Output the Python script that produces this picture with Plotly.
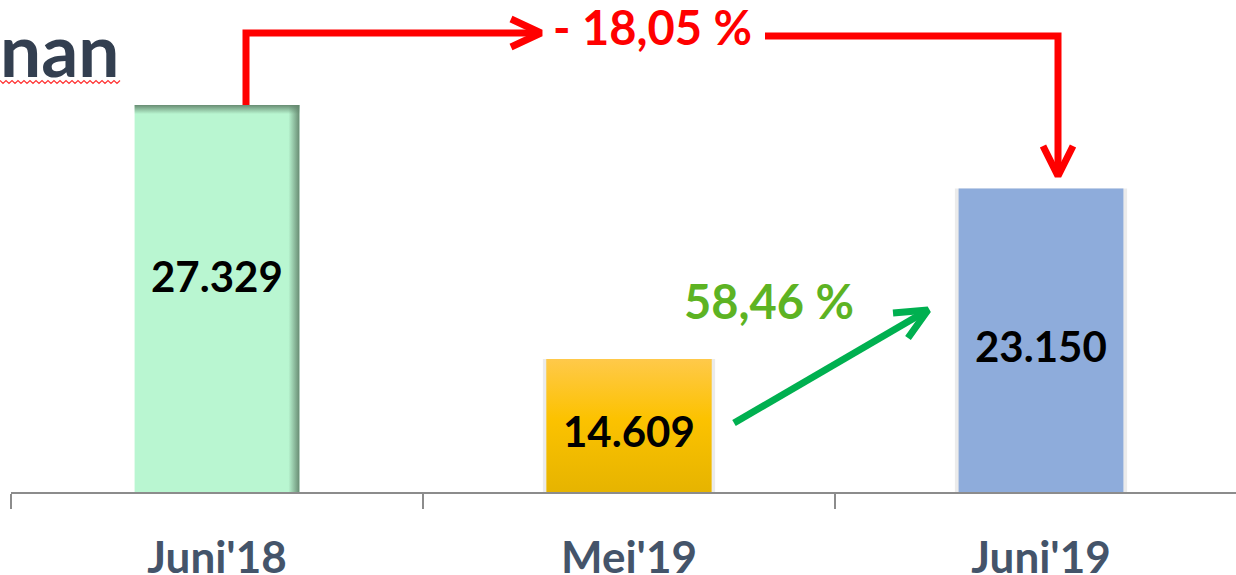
import plotly.graph_objects as go

# chart data
categories = ["Juni'18", "Mei'19", "Juni'19"]
values = [27329, 14609, 23150]
value_labels = ["27.329", "14.609", "23.150"]
bar_colors = ["#B9F6D1", "#FAC000", "#8EACDB"]
change_labels = ["- 18,05 %", "58,46 %"]
title_fragment = "nan"

# the value axis does not start at zero in the original slide
Y_FLOOR = 7950
Y_TOP = 32590
FONT = "Lato"

# plot area in page pixels (used only to place the hand-drawn arrows)
PLOT_L, PLOT_R, PLOT_B = 11, 1236, 492
CAT_PX = 412
X0_PX = PLOT_L + CAT_PX / 2
PX_PER_UNIT = PLOT_B / (Y_TOP - Y_FLOOR)

# labels in the slide are not exactly centred in their bars
label_nudge_px = [-23, 5, 6]


def to_data(px, py):
    return (px - X0_PX) / CAT_PX, Y_FLOOR + (PLOT_B - py) / PX_PER_UNIT


def to_paper(px, py):
    return (px - PLOT_L) / (PLOT_R - PLOT_L), (PLOT_B - py) / PLOT_B


def polyline(points):
    xs, ys = [], []
    for seg in points:
        for p in seg:
            x, y = to_data(*p)
            xs.append(x)
            ys.append(y)
        xs.append(None)
        ys.append(None)
    return xs, ys


xs = list(range(len(categories)))
half = 0.2

fig = go.Figure()

# soft outer shadow behind the second and third bar
fig.add_trace(go.Bar(
    x=xs[1:], y=[v - Y_FLOOR for v in values[1:]], base=Y_FLOOR, width=0.418,
    marker=dict(color="rgba(0,0,0,0.08)", line=dict(width=0)),
    hoverinfo="skip", showlegend=False,
))

fig.add_trace(go.Bar(
    x=xs, y=[v - Y_FLOOR for v in values], base=Y_FLOOR, width=2 * half,
    marker=dict(color=bar_colors, line=dict(width=0)),
    hovertemplate="%{x}: %{customdata}<extra></extra>", customdata=value_labels,
    showlegend=False,
))

# inner shading of the first bar (right edge and top edge)
v = values[0]
strip_w = 11 / CAT_PX
strip_h = 9 / PX_PER_UNIT
fig.add_trace(go.Scatter(
    x=[half - strip_w, half, half, half - strip_w, half - strip_w],
    y=[Y_FLOOR, Y_FLOOR, v, v, Y_FLOOR],
    fill="toself", mode="lines", line=dict(width=0),
    fillgradient=dict(type="horizontal", colorscale=[[0, "rgba(100,135,110,0)"], [1, "rgba(100,135,110,0.95)"]]),
    hoverinfo="skip", showlegend=False,
))
fig.add_trace(go.Scatter(
    x=[-half, half, half, -half, -half],
    y=[v - strip_h, v - strip_h, v, v, v - strip_h],
    fill="toself", mode="lines", line=dict(width=0),
    fillgradient=dict(type="vertical", colorscale=[[0, "rgba(100,135,110,0)"], [1, "rgba(100,135,110,0.95)"]]),
    hoverinfo="skip", showlegend=False,
))

# vertical gradient on the second bar
v = values[1]
fig.add_trace(go.Scatter(
    x=[1 - half, 1 + half, 1 + half, 1 - half, 1 - half],
    y=[Y_FLOOR, Y_FLOOR, v, v, Y_FLOOR],
    fill="toself", mode="lines", line=dict(width=0),
    fillgradient=dict(type="vertical", colorscale=[[0, "#E6B400"], [0.55, "#FCC200"], [1, "#FFC94A"]]),
    hoverinfo="skip", showlegend=False,
))

# value labels inside each bar
for x, v, lab, nudge in zip(xs, values, value_labels, label_nudge_px):
    fig.add_annotation(x=x, y=(Y_FLOOR + v) / 2, yshift=-nudge, text=lab, showarrow=False,
                       font=dict(family=FONT, size=42, color="black", weight="bold"))

# red connector Juni'18 -> Juni'19
rx, ry = polyline([
    [(246, 105), (246, 33), (541, 33)],
    [(511, 19), (541, 33), (511, 47)],
    [(765, 36), (1058, 36), (1058, 176)],
    [(1043, 146), (1058, 176), (1073, 146)],
])
fig.add_trace(go.Scatter(x=rx, y=ry, mode="lines", line=dict(color="#FF0000", width=7),
                         hoverinfo="skip", showlegend=False, cliponaxis=False))

# green arrow Mei'19 -> Juni'19
gx, gy = polyline([
    [(734, 423), (928, 310)],
    [(893, 313), (928, 310), (908, 338)],
])
fig.add_trace(go.Scatter(x=gx, y=gy, mode="lines", line=dict(color="#00B050", width=7),
                         hoverinfo="skip", showlegend=False, cliponaxis=False))

tx, ty = to_data(652, 27)
fig.add_annotation(x=tx, y=ty, text=change_labels[0], showarrow=False,
                   font=dict(family=FONT, size=47, color="#FF0000", weight="bold"))
tx, ty = to_data(769, 301)
fig.add_annotation(x=tx, y=ty, text=change_labels[1], showarrow=False,
                   font=dict(family=FONT, size=47, color="#5DB323", weight="bold"))

# cut-off slide title with spell-check squiggle
tx, ty = to_paper(121, 49)
fig.add_annotation(xref="paper", yref="paper", x=tx, y=ty, xanchor="right", yanchor="middle",
                   text=title_fragment, showarrow=False,
                   font=dict(family=FONT, size=73, color="#333F50", weight="bold"))
path = []
for i, px in enumerate(range(0, 121, 3)):
    sx, sy = to_paper(px, 82 + (1.5 if i % 2 else -1.5))
    path.append(("M" if i == 0 else "L") + f"{sx:.5f},{sy:.5f}")
fig.add_shape(type="path", xref="paper", yref="paper", path=" ".join(path),
              line=dict(color="#FF3030", width=1.2))

fig.update_layout(
    width=1236, height=575,
    margin=dict(l=PLOT_L, r=0, t=0, b=575 - PLOT_B),
    paper_bgcolor="white", plot_bgcolor="white",
    barmode="overlay", showlegend=False,
    xaxis=dict(
        range=[-0.5, (PLOT_R - X0_PX) / CAT_PX],
        tickvals=xs, ticktext=categories, ticks="",
        tickfont=dict(family=FONT, size=44, color="#44546A", weight="bold"),
        ticklabelstandoff=26, automargin=False,
        showline=True, linecolor="#8C8C8C", linewidth=1.5,
        showgrid=False, zeroline=False,
        minor=dict(tickvals=[-0.5, 0.5, 1.5, 2.5], ticks="outside", ticklen=15,
                   tickcolor="#8C8C8C", tickwidth=1.5),
    ),
    yaxis=dict(range=[Y_FLOOR, Y_TOP], visible=False, showgrid=False, zeroline=False,
               automargin=False),
)

# page body has a default margin; drop it so the figure fills the window
fig.write_html("out.html", config={"displayModeBar": False},
               post_script="document.body.style.margin='0';")
